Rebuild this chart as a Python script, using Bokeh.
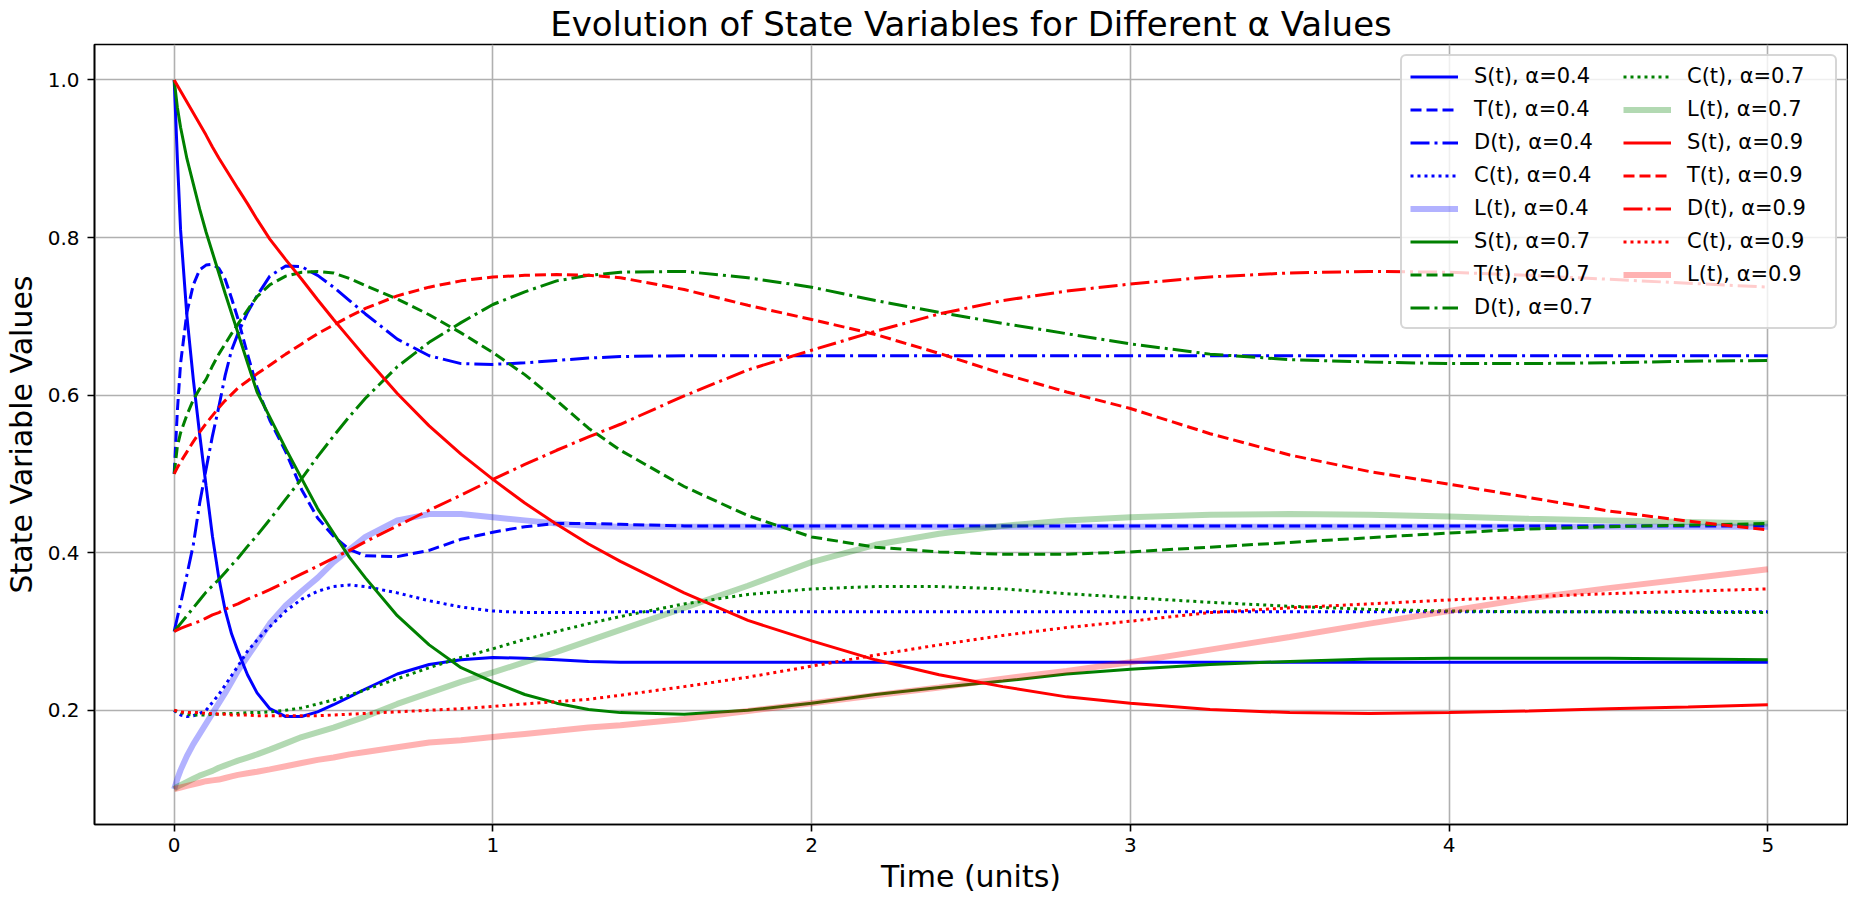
from bokeh.plotting import figure
from bokeh.models import Range1d, Legend, LegendItem, FixedTicker, PrintfTickFormatter
from bokeh.embed import file_html
from bokeh.resources import INLINE

# time samples (units)
t = [0, 0.01, 0.02, 0.04, 0.06, 0.08,
     0.10, 0.12, 0.14, 0.16, 0.18, 0.20,
     0.23, 0.26, 0.30, 0.35, 0.40, 0.45, 0.50, 0.55, 0.60,
     0.70, 0.80, 0.90, 1.00,
     1.10, 1.20, 1.30, 1.40,
     1.60, 1.80, 2.00, 2.20, 2.40, 2.60, 2.80, 3.00,
     3.25, 3.50, 3.75, 4.00, 4.25, 4.50, 4.75, 5.00]

# alpha = 0.4
S_04 = [1.000, 0.900, 0.810, 0.700, 0.620, 0.550,
        0.485, 0.421, 0.368, 0.327, 0.297, 0.275,
        0.245, 0.222, 0.202, 0.192, 0.192, 0.198, 0.207, 0.217, 0.227,
        0.246, 0.258, 0.264, 0.267,
        0.266, 0.264, 0.262, 0.261,
        0.261, 0.261, 0.261, 0.261, 0.261, 0.261, 0.261, 0.261,
        0.261, 0.261, 0.261, 0.261, 0.261, 0.261, 0.261, 0.261]
T_04 = [0.500, 0.580, 0.640, 0.705, 0.740, 0.759,
        0.765, 0.766, 0.761, 0.747, 0.723, 0.697,
        0.652, 0.610, 0.568, 0.528, 0.480, 0.444, 0.421, 0.404, 0.396,
        0.395, 0.403, 0.417, 0.426,
        0.433, 0.437, 0.437, 0.436,
        0.434, 0.434, 0.434, 0.434, 0.434, 0.434, 0.434, 0.434,
        0.434, 0.434, 0.434, 0.434, 0.434, 0.434, 0.434, 0.434]
D_04 = [0.300, 0.318, 0.335, 0.372, 0.410, 0.463,
        0.506, 0.548, 0.585, 0.625, 0.657, 0.678,
        0.705, 0.726, 0.751, 0.764, 0.763, 0.752, 0.737, 0.720, 0.703,
        0.671, 0.650, 0.640, 0.639,
        0.641, 0.644, 0.647, 0.649,
        0.650, 0.650, 0.650, 0.650, 0.650, 0.650, 0.650, 0.650,
        0.650, 0.650, 0.650, 0.650, 0.650, 0.650, 0.650, 0.650]
C_04 = [0.200, 0.196, 0.194, 0.192, 0.193, 0.196,
        0.200, 0.210, 0.220, 0.232, 0.244, 0.256,
        0.275, 0.289, 0.306, 0.326, 0.341, 0.351, 0.357, 0.359, 0.357,
        0.349, 0.339, 0.331, 0.326,
        0.324, 0.324, 0.324, 0.325,
        0.325, 0.325, 0.325, 0.325, 0.325, 0.325, 0.325, 0.325,
        0.325, 0.325, 0.325, 0.325, 0.325, 0.325, 0.325, 0.325]
L_04 = [0.100, 0.113, 0.124, 0.142, 0.157, 0.170,
        0.183, 0.196, 0.209, 0.222, 0.236, 0.250,
        0.268, 0.286, 0.310, 0.333, 0.351, 0.368, 0.388, 0.404, 0.420,
        0.441, 0.449, 0.449, 0.445,
        0.441, 0.437, 0.434, 0.433,
        0.433, 0.433, 0.433, 0.433, 0.433, 0.433, 0.433, 0.433,
        0.433, 0.433, 0.433, 0.433, 0.433, 0.433, 0.433, 0.433]

# alpha = 0.7
S_07 = [1.000, 0.965, 0.940, 0.900, 0.868, 0.836,
        0.807, 0.781, 0.755, 0.729, 0.704, 0.679,
        0.641, 0.604, 0.572, 0.532, 0.494, 0.456, 0.425, 0.394, 0.368,
        0.320, 0.283, 0.254, 0.236,
        0.220, 0.209, 0.201, 0.197,
        0.195, 0.200, 0.209, 0.220, 0.229, 0.237, 0.246, 0.252,
        0.258, 0.262, 0.265, 0.266, 0.266, 0.266, 0.265, 0.264]
T_07 = [0.500, 0.535, 0.552, 0.575, 0.594, 0.608,
        0.620, 0.637, 0.652, 0.665, 0.678, 0.690,
        0.708, 0.725, 0.740, 0.751, 0.756, 0.757, 0.755, 0.748, 0.739,
        0.722, 0.702, 0.679, 0.654,
        0.626, 0.593, 0.558, 0.530,
        0.484, 0.447, 0.420, 0.407, 0.401, 0.398, 0.398, 0.401,
        0.407, 0.413, 0.419, 0.425, 0.430, 0.433, 0.435, 0.437]
D_07 = [0.300, 0.305, 0.310, 0.320, 0.330, 0.340,
        0.350, 0.358, 0.366, 0.375, 0.384, 0.393,
        0.408, 0.422, 0.442, 0.468, 0.494, 0.522, 0.548, 0.573, 0.596,
        0.636, 0.667, 0.692, 0.715,
        0.731, 0.745, 0.752, 0.756,
        0.757, 0.749, 0.737, 0.720, 0.705, 0.691, 0.678, 0.665,
        0.652, 0.645, 0.642, 0.640, 0.640, 0.641, 0.643, 0.644]
C_07 = [0.200, 0.198, 0.197, 0.195, 0.194, 0.194,
        0.194, 0.195, 0.195, 0.196, 0.196, 0.196,
        0.197, 0.197, 0.198, 0.200, 0.203, 0.208, 0.213, 0.219, 0.226,
        0.240, 0.254, 0.267, 0.278,
        0.290, 0.300, 0.310, 0.319,
        0.335, 0.347, 0.354, 0.357, 0.357, 0.354, 0.348, 0.343,
        0.337, 0.332, 0.328, 0.326, 0.325, 0.325, 0.324, 0.324]
L_07 = [0.100, 0.103, 0.105, 0.109, 0.113, 0.117,
        0.120, 0.123, 0.127, 0.130, 0.133, 0.136,
        0.140, 0.144, 0.150, 0.158, 0.166, 0.172, 0.178, 0.185, 0.192,
        0.208, 0.222, 0.236, 0.248,
        0.261, 0.274, 0.288, 0.302,
        0.330, 0.358, 0.388, 0.410, 0.424, 0.434, 0.441, 0.445,
        0.448, 0.449, 0.448, 0.446, 0.443, 0.441, 0.439, 0.437]

# alpha = 0.9
S_09 = [1.000, 0.993, 0.986, 0.972, 0.958, 0.944,
        0.930, 0.915, 0.901, 0.888, 0.875, 0.862,
        0.843, 0.823, 0.798, 0.772, 0.747, 0.721, 0.696, 0.672, 0.648,
        0.602, 0.561, 0.525, 0.493,
        0.463, 0.436, 0.411, 0.389,
        0.349, 0.314, 0.288, 0.264, 0.245, 0.230, 0.217, 0.209,
        0.201, 0.197, 0.196, 0.197, 0.199, 0.202, 0.204, 0.207]
T_09 = [0.500, 0.508, 0.515, 0.528, 0.541, 0.553,
        0.564, 0.574, 0.584, 0.593, 0.601, 0.609,
        0.618, 0.627, 0.638, 0.652, 0.665, 0.678, 0.689, 0.700, 0.710,
        0.726, 0.737, 0.745, 0.750,
        0.752, 0.753, 0.752, 0.749,
        0.734, 0.714, 0.696, 0.677, 0.653, 0.627, 0.604, 0.583,
        0.551, 0.524, 0.503, 0.487, 0.470, 0.453, 0.440, 0.429]
D_09 = [0.300, 0.302, 0.304, 0.307, 0.310, 0.313,
        0.317, 0.321, 0.324, 0.328, 0.332, 0.335,
        0.341, 0.346, 0.353, 0.363, 0.373, 0.383, 0.393, 0.403, 0.414,
        0.434, 0.454, 0.473, 0.493,
        0.512, 0.530, 0.547, 0.563,
        0.599, 0.632, 0.657, 0.681, 0.703, 0.720, 0.732, 0.741,
        0.750, 0.755, 0.757, 0.756, 0.752, 0.747, 0.742, 0.737]
C_09 = [0.200, 0.199, 0.198, 0.197, 0.197, 0.197,
        0.196, 0.196, 0.195, 0.195, 0.194, 0.194,
        0.194, 0.193, 0.193, 0.193, 0.193, 0.193, 0.194, 0.195, 0.196,
        0.198, 0.200, 0.202, 0.205,
        0.208, 0.211, 0.214, 0.219,
        0.230, 0.242, 0.256, 0.270, 0.283, 0.295, 0.305, 0.313,
        0.324, 0.330, 0.335, 0.340, 0.344, 0.348, 0.351, 0.354]
L_09 = [0.100, 0.101, 0.102, 0.104, 0.106, 0.108,
        0.110, 0.111, 0.112, 0.114, 0.116, 0.118,
        0.120, 0.122, 0.125, 0.129, 0.133, 0.137, 0.140, 0.144, 0.147,
        0.153, 0.159, 0.162, 0.166,
        0.170, 0.174, 0.178, 0.181,
        0.189, 0.199, 0.209, 0.219, 0.229, 0.240, 0.250, 0.261,
        0.277, 0.293, 0.310, 0.326, 0.342, 0.355, 0.367, 0.379]

alphas = ["0.4", "0.7", "0.9"]
variables = ["S", "T", "D", "C", "L"]
values = {
    "0.4": [S_04, T_04, D_04, C_04, L_04],
    "0.7": [S_07, T_07, D_07, C_07, L_07],
    "0.9": [S_09, T_09, D_09, C_09, L_09],
}

colors = {"0.4": "#0000ff", "0.7": "#008000", "0.9": "#ff0000"}
dashes = {"S": "solid", "T": "11 5", "D": "19 5 3 5", "C": "3 4", "L": "solid"}

FONT = "DejaVu Sans"

p = figure(width=1848, height=896,
           x_range=Range1d(-0.25, 5.25), y_range=Range1d(0.055, 1.045),
           title="Evolution of State Variables for Different α Values",
           output_backend="svg", toolbar_location=None)

p.min_border_left = 89
p.min_border_right = 1
p.min_border_top = 37
p.min_border_bottom = 71

p.title.align = "center"
p.title.text_font = FONT
p.title.text_font_size = "34px"
p.title.text_font_style = "normal"
p.title.text_color = "black"
p.title.standoff = 2

p.outline_line_color = "black"
p.outline_line_width = 1.6
p.background_fill_color = "white"

p.grid.grid_line_color = "#b0b0b0"
p.grid.grid_line_width = 1.6

p.xaxis.ticker = FixedTicker(ticks=[0, 1, 2, 3, 4, 5])
p.yaxis.ticker = FixedTicker(ticks=[0.2, 0.4, 0.6, 0.8, 1.0])
p.xaxis.formatter = PrintfTickFormatter(format="%d")
p.yaxis.formatter = PrintfTickFormatter(format="%.1f")

for ax in (p.xaxis, p.yaxis):
    ax.axis_line_color = "black"
    ax.axis_line_width = 1.6
    ax.major_tick_line_color = "black"
    ax.major_tick_line_width = 1.6
    ax.major_tick_out = 7
    ax.major_tick_in = 0
    ax.minor_tick_line_color = None
    ax.major_label_text_font = FONT
    ax.major_label_text_font_size = "20px"
    ax.major_label_text_color = "black"
    ax.axis_label_text_font = FONT
    ax.axis_label_text_font_size = "30px"
    ax.axis_label_text_font_style = "normal"
    ax.axis_label_text_color = "black"

p.xaxis.axis_label = "Time (units)"
p.yaxis.axis_label = "State Variable Values"
p.xaxis.major_label_standoff = 6
p.xaxis.axis_label_standoff = 4
p.yaxis.major_label_standoff = 8
p.yaxis.axis_label_standoff = 6

items = []
for a in alphas:
    for var, ys in zip(variables, values[a]):
        assert len(ys) == len(t)
        thick = var == "L"
        r = p.line(t, ys, line_color=colors[a], line_dash=dashes[var],
                   line_width=6 if thick else 3,
                   line_alpha=0.3 if thick else 1.0)
        items.append(LegendItem(label=f"{var}(t), α={a}", renderers=[r]))

legend = Legend(items=items, location="top_right", ncols=2, nrows=8)
legend.margin = 10
legend.padding = 8
legend.spacing = 9
legend.glyph_width = 48
legend.glyph_height = 23
legend.label_height = 23
legend.label_width = 140
legend.label_standoff = 16
legend.label_text_font = FONT
legend.label_text_font_size = "21px"
legend.label_text_color = "black"
legend.border_line_color = "#cccccc"
legend.border_line_width = 2
legend.border_line_alpha = 0.8
legend.background_fill_color = "white"
legend.background_fill_alpha = 0.8
if "border_radius" in Legend.properties():
    legend.border_radius = 6
p.add_layout(legend)

open("out.html", "w").write(file_html(p, INLINE))
